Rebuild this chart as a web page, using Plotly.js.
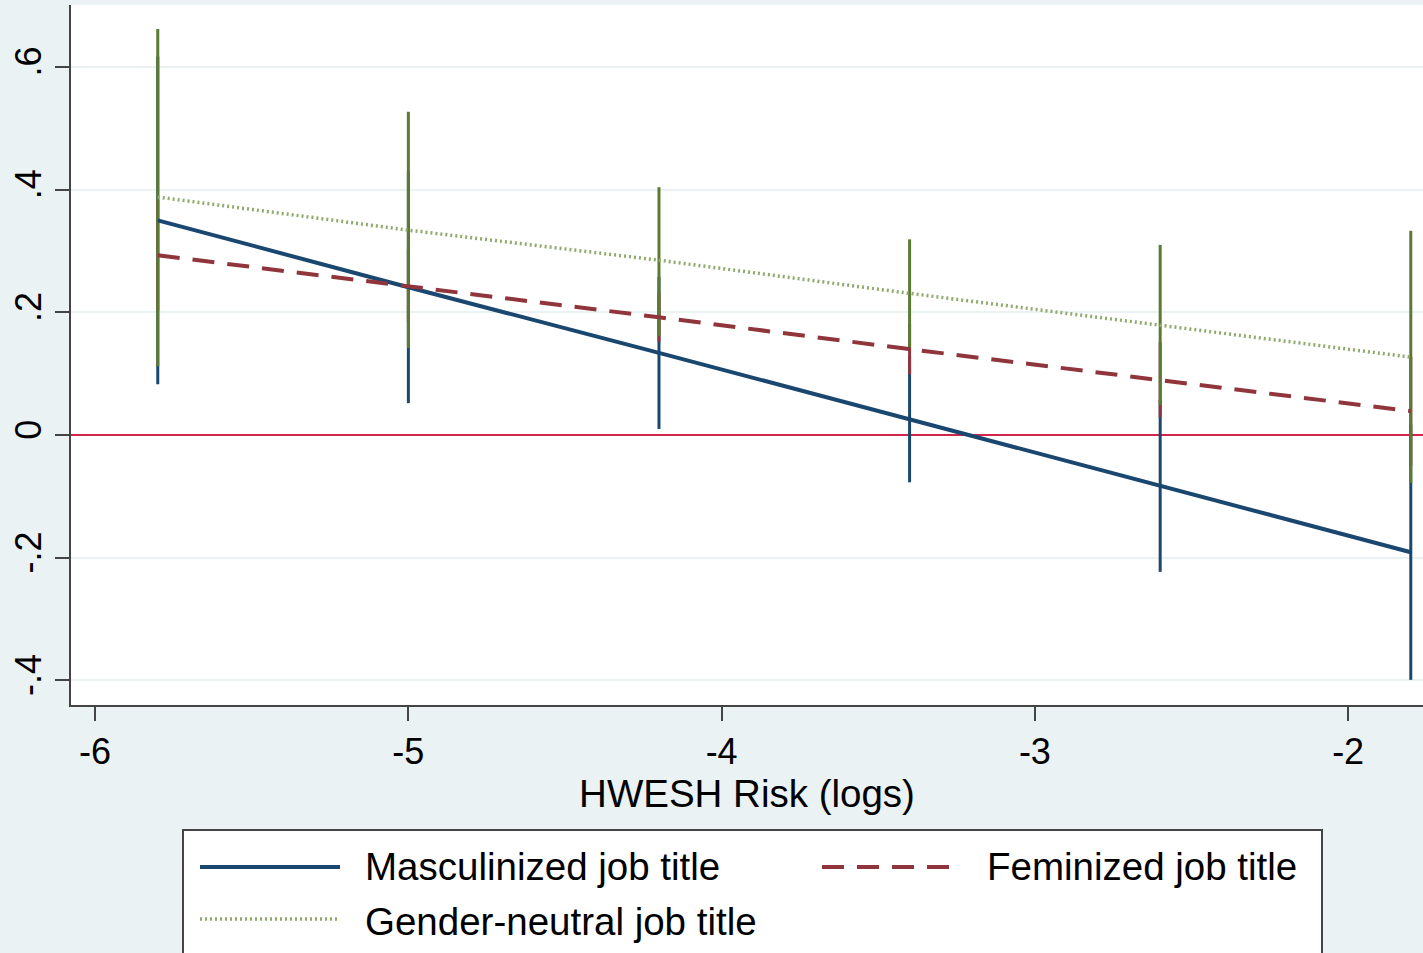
<!DOCTYPE html>
<html>
<head>
<meta charset="utf-8">
<script src="https://cdn.plot.ly/plotly-3.0.1.min.js"></script>
<style>html,body{margin:0;padding:0;background:#EAF2F3;}#chart{width:1423px;height:953px;}</style>
</head>
<body>
<div id="chart"></div>
<script>
// HWESH risk (logs) evaluation points
var riskX = [-5.8, -5.0, -4.2, -3.4, -2.6, -1.8];

// Masculinized job title
var mascFit = [0.350, 0.241, 0.134, 0.026, -0.083, -0.191];
var mascLo  = [0.083, 0.052, 0.010, -0.077, -0.223, -0.399];
var mascHi  = [0.617, 0.430, 0.258, 0.129, 0.057, 0.017];

// Feminized job title
var femFit = [0.293, 0.243, 0.192, 0.140, 0.090, 0.039];
var femLo  = [0.203, 0.183, 0.152, 0.099, 0.029, -0.050];
var femHi  = [0.383, 0.303, 0.232, 0.181, 0.151, 0.128];

// Gender-neutral job title
var neutFit = [0.388, 0.334, 0.285, 0.231, 0.179, 0.127];
var neutLo  = [0.112, 0.142, 0.161, 0.143, 0.049, -0.078];
var neutHi  = [0.662, 0.527, 0.404, 0.319, 0.310, 0.333];

var seriesNames = ["Masculinized job title", "Feminized job title", "Gender-neutral job title"];
var yTickVals = [-0.4, -0.2, 0, 0.2, 0.4, 0.6];
var yTickText = ["-.4", "-.2", "0", ".2", ".4", ".6"];
var xTickVals = [-6, -5, -4, -3, -2];
var xTickText = ["-6", "-5", "-4", "-3", "-2"];

var cBlue = "#1A476F", cRed = "#90353B", cGreenBar = "#5A7B33", cGreenLine = "#8FAA6C";
var FONT = "Liberation Sans, Arial, sans-serif";

function ciTrace(fit, lo, hi, color) {
  return {
    x: riskX, y: fit, type: "scatter", mode: "markers",
    marker: {size: 1, opacity: 0}, showlegend: false, hoverinfo: "skip",
    error_y: {
      type: "data", symmetric: false,
      array: fit.map(function (v, i) { return hi[i] - v; }),
      arrayminus: fit.map(function (v, i) { return v - lo[i]; }),
      color: color, thickness: 3, width: 0
    }
  };
}

var traces = [
  ciTrace(mascFit, mascLo, mascHi, cBlue),
  ciTrace(femFit, femLo, femHi, cRed),
  ciTrace(neutFit, neutLo, neutHi, cGreenBar),
  {x: riskX, y: mascFit, type: "scatter", mode: "lines", name: seriesNames[0],
   line: {color: cBlue, width: 4}, showlegend: false},
  {x: riskX, y: femFit, type: "scatter", mode: "lines", name: seriesNames[1],
   line: {color: cRed, width: 4, dash: "22px,13px"}, showlegend: false},
  {x: riskX, y: neutFit, type: "scatter", mode: "lines", name: seriesNames[2],
   line: {color: cGreenLine, width: 3.5, dash: "2px,3px"}, showlegend: false}
];

// legend drawn as paper-referenced shapes + text (Stata style, 2 columns)
function px2x(p) { return (p - 71) / 1352; }
function py2y(p) { return (705 - p) / 700; }
var legendShapes = [
  {type: "rect", xref: "paper", yref: "paper", x0: px2x(183), x1: px2x(1322), y0: py2y(975), y1: py2y(830),
   fillcolor: "#FFFFFF", line: {color: "#444444", width: 2}},
  {type: "line", xref: "paper", yref: "paper", x0: px2x(200), x1: px2x(340), y0: py2y(867), y1: py2y(867),
   line: {color: cBlue, width: 4}},
  {type: "line", xref: "paper", yref: "paper", x0: px2x(822), x1: px2x(962), y0: py2y(867), y1: py2y(867),
   line: {color: cRed, width: 4, dash: "22px,13px"}},
  {type: "line", xref: "paper", yref: "paper", x0: px2x(200), x1: px2x(340), y0: py2y(919), y1: py2y(919),
   line: {color: cGreenLine, width: 3.5, dash: "2px,3px"}}
];
var legendPos = [[363, 867], [985, 867], [363, 921]];
var legendAnn = seriesNames.map(function (n, i) {
  return {xref: "paper", yref: "paper", x: px2x(legendPos[i][0]), y: py2y(legendPos[i][1]),
    xanchor: "left", yanchor: "middle", text: n, showarrow: false,
    font: {family: FONT, size: 38.5, color: "#000000"}};
});

var layout = {
  width: 1423, height: 953,
  paper_bgcolor: "#EAF2F3", plot_bgcolor: "#FFFFFF",
  margin: {l: 71, r: 0, t: 5, b: 248},
  showlegend: false,
  font: {family: FONT, color: "#000000"},
  xaxis: {
    range: [-6.077, -1.761], tickvals: xTickVals, ticktext: xTickText,
    showgrid: false, zeroline: false,
    showline: true, linecolor: "#444444", linewidth: 2,
    ticks: "outside", ticklen: 14, tickwidth: 2, tickcolor: "#444444",
    tickfont: {size: 36, family: FONT, color: "#000000"},
    title: {text: "HWESH Risk (logs)", font: {size: 38.5, family: FONT, color: "#000000"}, standoff: 2}
  },
  yaxis: {
    range: [-0.44, 0.701], tickvals: yTickVals, ticktext: yTickText,
    showgrid: true, gridcolor: "#EAF2F3", gridwidth: 2,
    zeroline: true, zerolinecolor: "#D3254A", zerolinewidth: 2.5,
    showline: true, linecolor: "#444444", linewidth: 2,
    ticks: "outside", ticklen: 14, tickwidth: 2, tickcolor: "#444444",
    tickangle: -90,
    tickfont: {size: 36, family: FONT, color: "#000000"}
  },
  shapes: legendShapes,
  annotations: legendAnn
};

Plotly.newPlot("chart", traces, layout, {displayModeBar: false, staticPlot: true});
</script>
</body>
</html>
